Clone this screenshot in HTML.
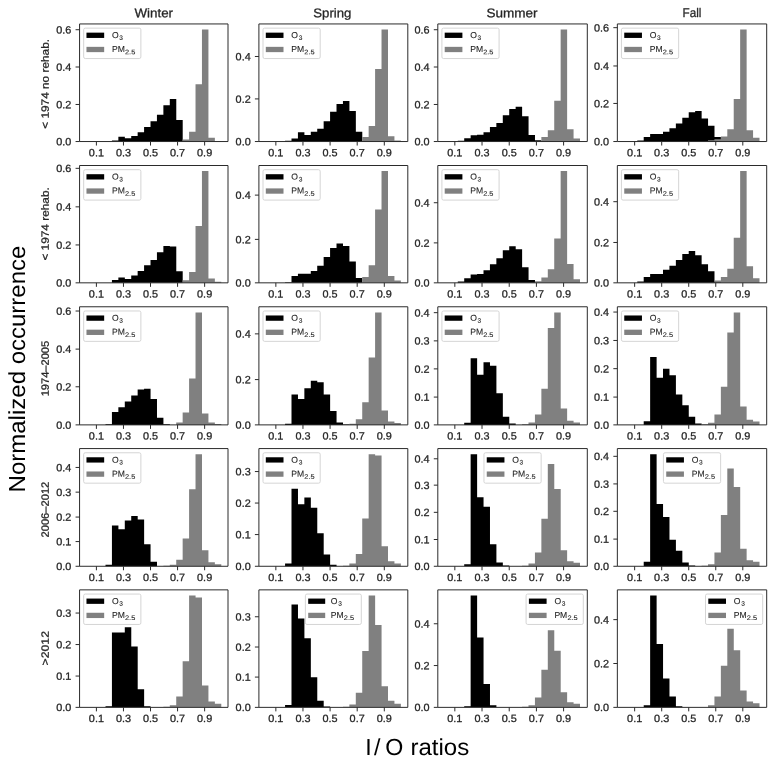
<!DOCTYPE html>
<html><head><meta charset="utf-8"><title>I/O ratios</title>
<style>html,body{margin:0;padding:0;background:#fff}svg{display:block;text-rendering:geometricPrecision;will-change:transform}</style>
</head><body>
<svg width="777" height="765" viewBox="0 0 777 765" font-family="Liberation Sans, sans-serif">
<rect width="777" height="765" fill="#fff"/>
<g stroke="#262626" stroke-width="0.28" stroke-linejoin="round">
<g>
<path d="M111.93 141.54h6.48v-1.03h-6.48zM118.36 141.54h6.48v-4.74h-6.48zM124.79 141.54h6.48v-3.3h-6.48zM131.22 141.54h6.48v-5.57h-6.48zM137.65 141.54h6.48v-9.28h-6.48zM144.08 141.54h6.48v-14.44h-6.48zM150.51 141.54h6.48v-20.21h-6.48zM156.94 141.54h6.48v-26.81h-6.48zM163.38 141.54h6.48v-36.3h-6.48zM169.8 141.54h6.48v-42.49h-6.48zM176.23 141.54h6.48v-21.66h-6.48z" fill="#000" stroke="none"/>
<path d="M182.66 141.54h6.48v-2.06h-6.48zM189.09 141.54h6.48v-9.69h-6.48zM195.52 141.54h6.48v-57.34h-6.48zM201.95 141.54h6.48v-112h-6.48zM208.38 141.54h6.48v-3.71h-6.48zM214.81 141.54h6.48v-0.62h-6.48z" fill="#808080" stroke="none"/>
<rect x="79.57" y="23.94" width="148.43" height="117.6" fill="none" stroke="#2b2b2b" stroke-width="1"/>
<path d="M96.4 141.54v4M123.46 141.54v4M150.51 141.54v4M177.57 141.54v4M204.63 141.54v4M79.57 29.73h-4M79.57 67h-4M79.57 104.47h-4M79.57 141.54h-4" stroke="#2b2b2b" stroke-width="1" fill="none"/>
<text x="88.85" y="156.24" transform="rotate(0.03 88.85 156.24)" font-size="10.5" fill="#262626" textLength="15.1" lengthAdjust="spacingAndGlyphs">0.1</text>
<text x="115.91" y="156.24" transform="rotate(0.03 115.91 156.24)" font-size="10.5" fill="#262626" textLength="15.1" lengthAdjust="spacingAndGlyphs">0.3</text>
<text x="142.96" y="156.24" transform="rotate(0.03 142.96 156.24)" font-size="10.5" fill="#262626" textLength="15.1" lengthAdjust="spacingAndGlyphs">0.5</text>
<text x="170.02" y="156.24" transform="rotate(0.03 170.02 156.24)" font-size="10.5" fill="#262626" textLength="15.1" lengthAdjust="spacingAndGlyphs">0.7</text>
<text x="197.08" y="156.24" transform="rotate(0.03 197.08 156.24)" font-size="10.5" fill="#262626" textLength="15.1" lengthAdjust="spacingAndGlyphs">0.9</text>
<text x="56.27" y="33.48" transform="rotate(0.03 56.27 33.48)" font-size="10.5" fill="#262626" textLength="15.1" lengthAdjust="spacingAndGlyphs">0.6</text>
<text x="56.27" y="70.75" transform="rotate(0.03 56.27 70.75)" font-size="10.5" fill="#262626" textLength="15.1" lengthAdjust="spacingAndGlyphs">0.4</text>
<text x="56.27" y="108.22" transform="rotate(0.03 56.27 108.22)" font-size="10.5" fill="#262626" textLength="15.1" lengthAdjust="spacingAndGlyphs">0.2</text>
<text x="56.27" y="145.29" transform="rotate(0.03 56.27 145.29)" font-size="10.5" fill="#262626" textLength="15.1" lengthAdjust="spacingAndGlyphs">0.0</text>
<rect x="83.67" y="28.14" width="57.2" height="30.4" rx="1.6" fill="#fff" fill-opacity="0.8" stroke="#d0d0d0" stroke-width="0.9"/>
<rect x="86.47" y="32.64" width="17.7" height="5.3" fill="#000" stroke="none"/>
<rect x="86.47" y="46.84" width="17.7" height="5.3" fill="#808080" stroke="none"/>
<text x="111.97" y="38.04" transform="rotate(0.03 111.97 38.04)" font-size="8.6" fill="#262626" stroke-width="0.1">O<tspan font-size="6.6" dx="0.7" dy="1.9">3</tspan></text>
<text x="111.97" y="52.04" transform="rotate(0.03 111.97 52.04)" font-size="8.6" fill="#262626" stroke-width="0.1">PM<tspan font-size="6.6" dx="0.1" dy="2.1" textLength="10.3" lengthAdjust="spacingAndGlyphs">2.5</tspan></text>
</g>
<g>
<path d="M285.07 141.54h6.48v-0.83h-6.48zM291.5 141.54h6.48v-3.09h-6.48zM297.93 141.54h6.48v-9.28h-6.48zM304.36 141.54h6.48v-6.6h-6.48zM310.79 141.54h6.48v-9.9h-6.48zM317.22 141.54h6.48v-12.79h-6.48zM323.65 141.54h6.48v-20.21h-6.48zM330.08 141.54h6.48v-29.7h-6.48zM336.51 141.54h6.48v-37.54h-6.48zM342.94 141.54h6.48v-40.63h-6.48zM349.37 141.54h6.48v-30.53h-6.48zM355.8 141.54h6.48v-9.69h-6.48z" fill="#000" stroke="none"/>
<path d="M362.23 141.54h6.48v-4.54h-6.48zM368.66 141.54h6.48v-15.47h-6.48zM375.09 141.54h6.48v-72.6h-6.48zM381.52 141.54h6.48v-112h-6.48zM387.95 141.54h6.48v-5.36h-6.48zM394.38 141.54h6.48v-1.03h-6.48z" fill="#808080" stroke="none"/>
<rect x="258.9" y="23.94" width="148.9" height="117.6" fill="none" stroke="#2b2b2b" stroke-width="1"/>
<path d="M275.85 141.54v4M302.96 141.54v4M330.08 141.54v4M357.19 141.54v4M384.3 141.54v4M258.9 56.49h-4M258.9 98.91h-4M258.9 141.54h-4" stroke="#2b2b2b" stroke-width="1" fill="none"/>
<text x="268.3" y="156.24" transform="rotate(0.03 268.3 156.24)" font-size="10.5" fill="#262626" textLength="15.1" lengthAdjust="spacingAndGlyphs">0.1</text>
<text x="295.41" y="156.24" transform="rotate(0.03 295.41 156.24)" font-size="10.5" fill="#262626" textLength="15.1" lengthAdjust="spacingAndGlyphs">0.3</text>
<text x="322.53" y="156.24" transform="rotate(0.03 322.53 156.24)" font-size="10.5" fill="#262626" textLength="15.1" lengthAdjust="spacingAndGlyphs">0.5</text>
<text x="349.64" y="156.24" transform="rotate(0.03 349.64 156.24)" font-size="10.5" fill="#262626" textLength="15.1" lengthAdjust="spacingAndGlyphs">0.7</text>
<text x="376.75" y="156.24" transform="rotate(0.03 376.75 156.24)" font-size="10.5" fill="#262626" textLength="15.1" lengthAdjust="spacingAndGlyphs">0.9</text>
<text x="235.6" y="60.24" transform="rotate(0.03 235.6 60.24)" font-size="10.5" fill="#262626" textLength="15.1" lengthAdjust="spacingAndGlyphs">0.4</text>
<text x="235.6" y="102.66" transform="rotate(0.03 235.6 102.66)" font-size="10.5" fill="#262626" textLength="15.1" lengthAdjust="spacingAndGlyphs">0.2</text>
<text x="235.6" y="145.29" transform="rotate(0.03 235.6 145.29)" font-size="10.5" fill="#262626" textLength="15.1" lengthAdjust="spacingAndGlyphs">0.0</text>
<rect x="263" y="28.14" width="57.2" height="30.4" rx="1.6" fill="#fff" fill-opacity="0.8" stroke="#d0d0d0" stroke-width="0.9"/>
<rect x="265.8" y="32.64" width="17.7" height="5.3" fill="#000" stroke="none"/>
<rect x="265.8" y="46.84" width="17.7" height="5.3" fill="#808080" stroke="none"/>
<text x="291.3" y="38.04" transform="rotate(0.03 291.3 38.04)" font-size="8.6" fill="#262626" stroke-width="0.1">O<tspan font-size="6.6" dx="0.7" dy="1.9">3</tspan></text>
<text x="291.3" y="52.04" transform="rotate(0.03 291.3 52.04)" font-size="8.6" fill="#262626" stroke-width="0.1">PM<tspan font-size="6.6" dx="0.1" dy="2.1" textLength="10.3" lengthAdjust="spacingAndGlyphs">2.5</tspan></text>
</g>
<g>
<path d="M457.78 141.54h6.48v-0.83h-6.48zM464.21 141.54h6.48v-3.3h-6.48zM470.64 141.54h6.48v-6.19h-6.48zM477.07 141.54h6.48v-6.81h-6.48zM483.5 141.54h6.48v-9.28h-6.48zM489.93 141.54h6.48v-14.44h-6.48zM496.36 141.54h6.48v-18.56h-6.48zM502.79 141.54h6.48v-26.2h-6.48zM509.22 141.54h6.48v-32.59h-6.48zM515.64 141.54h6.48v-34.86h-6.48zM522.08 141.54h6.48v-25.37h-6.48zM528.5 141.54h6.48v-6.6h-6.48zM534.94 141.54h6.48v-1.24h-6.48z" fill="#000" stroke="none"/>
<path d="M541.37 141.54h6.48v-4.54h-6.48zM547.8 141.54h6.48v-11.34h-6.48zM554.23 141.54h6.48v-40.84h-6.48zM560.65 141.54h6.48v-112h-6.48zM567.09 141.54h6.48v-12.17h-6.48zM573.51 141.54h6.48v-3.09h-6.48z" fill="#808080" stroke="none"/>
<rect x="437.8" y="23.94" width="149.5" height="117.6" fill="none" stroke="#2b2b2b" stroke-width="1"/>
<path d="M454.83 141.54v4M482.02 141.54v4M509.22 141.54v4M536.41 141.54v4M563.6 141.54v4M437.8 29.73h-4M437.8 67h-4M437.8 104.47h-4M437.8 141.54h-4" stroke="#2b2b2b" stroke-width="1" fill="none"/>
<text x="447.28" y="156.24" transform="rotate(0.03 447.28 156.24)" font-size="10.5" fill="#262626" textLength="15.1" lengthAdjust="spacingAndGlyphs">0.1</text>
<text x="474.47" y="156.24" transform="rotate(0.03 474.47 156.24)" font-size="10.5" fill="#262626" textLength="15.1" lengthAdjust="spacingAndGlyphs">0.3</text>
<text x="501.67" y="156.24" transform="rotate(0.03 501.67 156.24)" font-size="10.5" fill="#262626" textLength="15.1" lengthAdjust="spacingAndGlyphs">0.5</text>
<text x="528.86" y="156.24" transform="rotate(0.03 528.86 156.24)" font-size="10.5" fill="#262626" textLength="15.1" lengthAdjust="spacingAndGlyphs">0.7</text>
<text x="556.05" y="156.24" transform="rotate(0.03 556.05 156.24)" font-size="10.5" fill="#262626" textLength="15.1" lengthAdjust="spacingAndGlyphs">0.9</text>
<text x="414.5" y="33.48" transform="rotate(0.03 414.5 33.48)" font-size="10.5" fill="#262626" textLength="15.1" lengthAdjust="spacingAndGlyphs">0.6</text>
<text x="414.5" y="70.75" transform="rotate(0.03 414.5 70.75)" font-size="10.5" fill="#262626" textLength="15.1" lengthAdjust="spacingAndGlyphs">0.4</text>
<text x="414.5" y="108.22" transform="rotate(0.03 414.5 108.22)" font-size="10.5" fill="#262626" textLength="15.1" lengthAdjust="spacingAndGlyphs">0.2</text>
<text x="414.5" y="145.29" transform="rotate(0.03 414.5 145.29)" font-size="10.5" fill="#262626" textLength="15.1" lengthAdjust="spacingAndGlyphs">0.0</text>
<rect x="441.9" y="28.14" width="57.2" height="30.4" rx="1.6" fill="#fff" fill-opacity="0.8" stroke="#d0d0d0" stroke-width="0.9"/>
<rect x="444.7" y="32.64" width="17.7" height="5.3" fill="#000" stroke="none"/>
<rect x="444.7" y="46.84" width="17.7" height="5.3" fill="#808080" stroke="none"/>
<text x="470.2" y="38.04" transform="rotate(0.03 470.2 38.04)" font-size="8.6" fill="#262626" stroke-width="0.1">O<tspan font-size="6.6" dx="0.7" dy="1.9">3</tspan></text>
<text x="470.2" y="52.04" transform="rotate(0.03 470.2 52.04)" font-size="8.6" fill="#262626" stroke-width="0.1">PM<tspan font-size="6.6" dx="0.1" dy="2.1" textLength="10.3" lengthAdjust="spacingAndGlyphs">2.5</tspan></text>
</g>
<g>
<path d="M637.28 141.54h6.48v-1.03h-6.48zM643.71 141.54h6.48v-4.54h-6.48zM650.14 141.54h6.48v-7.43h-6.48zM656.57 141.54h6.48v-7.43h-6.48zM663 141.54h6.48v-9.9h-6.48zM669.43 141.54h6.48v-13.41h-6.48zM675.86 141.54h6.48v-17.94h-6.48zM682.29 141.54h6.48v-23.72h-6.48zM688.72 141.54h6.48v-29.29h-6.48zM695.15 141.54h6.48v-30.53h-6.48zM701.58 141.54h6.48v-23.1h-6.48zM708.01 141.54h6.48v-15.88h-6.48zM714.44 141.54h6.48v-4.54h-6.48z" fill="#000" stroke="none"/>
<path d="M708.01 141.54h6.48v-1.24h-6.48zM714.44 141.54h6.48v-2.27h-6.48zM720.87 141.54h6.48v-5.16h-6.48zM727.3 141.54h6.48v-12.17h-6.48zM733.73 141.54h6.48v-42.49h-6.48zM740.16 141.54h6.48v-112h-6.48zM746.59 141.54h6.48v-11.34h-6.48zM753.02 141.54h6.48v-3.71h-6.48z" fill="#808080" stroke="none"/>
<rect x="617.35" y="23.94" width="149.35" height="117.6" fill="none" stroke="#2b2b2b" stroke-width="1"/>
<path d="M634.65 141.54v4M661.69 141.54v4M688.72 141.54v4M715.76 141.54v4M742.8 141.54v4M617.35 27.67h-4M617.35 65.97h-4M617.35 103.44h-4M617.35 141.54h-4" stroke="#2b2b2b" stroke-width="1" fill="none"/>
<text x="627.1" y="156.24" transform="rotate(0.03 627.1 156.24)" font-size="10.5" fill="#262626" textLength="15.1" lengthAdjust="spacingAndGlyphs">0.1</text>
<text x="654.14" y="156.24" transform="rotate(0.03 654.14 156.24)" font-size="10.5" fill="#262626" textLength="15.1" lengthAdjust="spacingAndGlyphs">0.3</text>
<text x="681.17" y="156.24" transform="rotate(0.03 681.17 156.24)" font-size="10.5" fill="#262626" textLength="15.1" lengthAdjust="spacingAndGlyphs">0.5</text>
<text x="708.21" y="156.24" transform="rotate(0.03 708.21 156.24)" font-size="10.5" fill="#262626" textLength="15.1" lengthAdjust="spacingAndGlyphs">0.7</text>
<text x="735.25" y="156.24" transform="rotate(0.03 735.25 156.24)" font-size="10.5" fill="#262626" textLength="15.1" lengthAdjust="spacingAndGlyphs">0.9</text>
<text x="594.05" y="31.42" transform="rotate(0.03 594.05 31.42)" font-size="10.5" fill="#262626" textLength="15.1" lengthAdjust="spacingAndGlyphs">0.6</text>
<text x="594.05" y="69.72" transform="rotate(0.03 594.05 69.72)" font-size="10.5" fill="#262626" textLength="15.1" lengthAdjust="spacingAndGlyphs">0.4</text>
<text x="594.05" y="107.19" transform="rotate(0.03 594.05 107.19)" font-size="10.5" fill="#262626" textLength="15.1" lengthAdjust="spacingAndGlyphs">0.2</text>
<text x="594.05" y="145.29" transform="rotate(0.03 594.05 145.29)" font-size="10.5" fill="#262626" textLength="15.1" lengthAdjust="spacingAndGlyphs">0.0</text>
<rect x="621.45" y="28.14" width="57.2" height="30.4" rx="1.6" fill="#fff" fill-opacity="0.8" stroke="#d0d0d0" stroke-width="0.9"/>
<rect x="624.25" y="32.64" width="17.7" height="5.3" fill="#000" stroke="none"/>
<rect x="624.25" y="46.84" width="17.7" height="5.3" fill="#808080" stroke="none"/>
<text x="649.75" y="38.04" transform="rotate(0.03 649.75 38.04)" font-size="8.6" fill="#262626" stroke-width="0.1">O<tspan font-size="6.6" dx="0.7" dy="1.9">3</tspan></text>
<text x="649.75" y="52.04" transform="rotate(0.03 649.75 52.04)" font-size="8.6" fill="#262626" stroke-width="0.1">PM<tspan font-size="6.6" dx="0.1" dy="2.1" textLength="10.3" lengthAdjust="spacingAndGlyphs">2.5</tspan></text>
</g>
<g>
<path d="M111.93 282.83h6.48v-2.88h-6.48zM118.36 282.83h6.48v-5.35h-6.48zM124.79 282.83h6.48v-3.91h-6.48zM131.22 282.83h6.48v-7.41h-6.48zM137.65 282.83h6.48v-11.94h-6.48zM144.08 282.83h6.48v-17.7h-6.48zM150.51 282.83h6.48v-22.84h-6.48zM156.94 282.83h6.48v-30.66h-6.48zM163.38 282.83h6.48v-36.84h-6.48zM169.8 282.83h6.48v-36.22h-6.48zM176.23 282.83h6.48v-11.52h-6.48z" fill="#000" stroke="none"/>
<path d="M182.66 282.83h6.48v-2.68h-6.48zM189.09 282.83h6.48v-10.91h-6.48zM195.52 282.83h6.48v-56.8h-6.48zM201.95 282.83h6.48v-111.74h-6.48zM208.38 282.83h6.48v-4.32h-6.48zM214.81 282.83h6.48v-1.03h-6.48z" fill="#808080" stroke="none"/>
<rect x="79.57" y="165.5" width="148.43" height="117.33" fill="none" stroke="#2b2b2b" stroke-width="1"/>
<path d="M96.4 282.83v4M123.46 282.83v4M150.51 282.83v4M177.57 282.83v4M204.63 282.83v4M79.57 168.34h-4M79.57 206.85h-4M79.57 244.94h-4M79.57 282.83h-4" stroke="#2b2b2b" stroke-width="1" fill="none"/>
<text x="88.85" y="297.53" transform="rotate(0.03 88.85 297.53)" font-size="10.5" fill="#262626" textLength="15.1" lengthAdjust="spacingAndGlyphs">0.1</text>
<text x="115.91" y="297.53" transform="rotate(0.03 115.91 297.53)" font-size="10.5" fill="#262626" textLength="15.1" lengthAdjust="spacingAndGlyphs">0.3</text>
<text x="142.96" y="297.53" transform="rotate(0.03 142.96 297.53)" font-size="10.5" fill="#262626" textLength="15.1" lengthAdjust="spacingAndGlyphs">0.5</text>
<text x="170.02" y="297.53" transform="rotate(0.03 170.02 297.53)" font-size="10.5" fill="#262626" textLength="15.1" lengthAdjust="spacingAndGlyphs">0.7</text>
<text x="197.08" y="297.53" transform="rotate(0.03 197.08 297.53)" font-size="10.5" fill="#262626" textLength="15.1" lengthAdjust="spacingAndGlyphs">0.9</text>
<text x="56.27" y="172.09" transform="rotate(0.03 56.27 172.09)" font-size="10.5" fill="#262626" textLength="15.1" lengthAdjust="spacingAndGlyphs">0.6</text>
<text x="56.27" y="210.6" transform="rotate(0.03 56.27 210.6)" font-size="10.5" fill="#262626" textLength="15.1" lengthAdjust="spacingAndGlyphs">0.4</text>
<text x="56.27" y="248.69" transform="rotate(0.03 56.27 248.69)" font-size="10.5" fill="#262626" textLength="15.1" lengthAdjust="spacingAndGlyphs">0.2</text>
<text x="56.27" y="286.58" transform="rotate(0.03 56.27 286.58)" font-size="10.5" fill="#262626" textLength="15.1" lengthAdjust="spacingAndGlyphs">0.0</text>
<rect x="83.67" y="169.7" width="57.2" height="30.4" rx="1.6" fill="#fff" fill-opacity="0.8" stroke="#d0d0d0" stroke-width="0.9"/>
<rect x="86.47" y="174.2" width="17.7" height="5.3" fill="#000" stroke="none"/>
<rect x="86.47" y="188.4" width="17.7" height="5.3" fill="#808080" stroke="none"/>
<text x="111.97" y="179.6" transform="rotate(0.03 111.97 179.6)" font-size="8.6" fill="#262626" stroke-width="0.1">O<tspan font-size="6.6" dx="0.7" dy="1.9">3</tspan></text>
<text x="111.97" y="193.6" transform="rotate(0.03 111.97 193.6)" font-size="8.6" fill="#262626" stroke-width="0.1">PM<tspan font-size="6.6" dx="0.1" dy="2.1" textLength="10.3" lengthAdjust="spacingAndGlyphs">2.5</tspan></text>
</g>
<g>
<path d="M285.07 282.83h6.48v-0.62h-6.48zM291.5 282.83h6.48v-6.79h-6.48zM297.93 282.83h6.48v-9.05h-6.48zM304.36 282.83h6.48v-9.05h-6.48zM310.79 282.83h6.48v-11.94h-6.48zM317.22 282.83h6.48v-17.08h-6.48zM323.65 282.83h6.48v-25.93h-6.48zM330.08 282.83h6.48v-34.78h-6.48zM336.51 282.83h6.48v-39.31h-6.48zM342.94 282.83h6.48v-36.84h-6.48zM349.37 282.83h6.48v-21.4h-6.48zM355.8 282.83h6.48v-4.94h-6.48z" fill="#000" stroke="none"/>
<path d="M362.23 282.83h6.48v-5.76h-6.48zM368.66 282.83h6.48v-17.7h-6.48zM375.09 282.83h6.48v-73.26h-6.48zM381.52 282.83h6.48v-111.74h-6.48zM387.95 282.83h6.48v-6.79h-6.48zM394.38 282.83h6.48v-2.26h-6.48z" fill="#808080" stroke="none"/>
<rect x="258.9" y="165.5" width="148.9" height="117.33" fill="none" stroke="#2b2b2b" stroke-width="1"/>
<path d="M275.85 282.83v4M302.96 282.83v4M330.08 282.83v4M357.19 282.83v4M384.3 282.83v4M258.9 195.11h-4M258.9 239.38h-4M258.9 282.83h-4" stroke="#2b2b2b" stroke-width="1" fill="none"/>
<text x="268.3" y="297.53" transform="rotate(0.03 268.3 297.53)" font-size="10.5" fill="#262626" textLength="15.1" lengthAdjust="spacingAndGlyphs">0.1</text>
<text x="295.41" y="297.53" transform="rotate(0.03 295.41 297.53)" font-size="10.5" fill="#262626" textLength="15.1" lengthAdjust="spacingAndGlyphs">0.3</text>
<text x="322.53" y="297.53" transform="rotate(0.03 322.53 297.53)" font-size="10.5" fill="#262626" textLength="15.1" lengthAdjust="spacingAndGlyphs">0.5</text>
<text x="349.64" y="297.53" transform="rotate(0.03 349.64 297.53)" font-size="10.5" fill="#262626" textLength="15.1" lengthAdjust="spacingAndGlyphs">0.7</text>
<text x="376.75" y="297.53" transform="rotate(0.03 376.75 297.53)" font-size="10.5" fill="#262626" textLength="15.1" lengthAdjust="spacingAndGlyphs">0.9</text>
<text x="235.6" y="198.86" transform="rotate(0.03 235.6 198.86)" font-size="10.5" fill="#262626" textLength="15.1" lengthAdjust="spacingAndGlyphs">0.4</text>
<text x="235.6" y="243.13" transform="rotate(0.03 235.6 243.13)" font-size="10.5" fill="#262626" textLength="15.1" lengthAdjust="spacingAndGlyphs">0.2</text>
<text x="235.6" y="286.58" transform="rotate(0.03 235.6 286.58)" font-size="10.5" fill="#262626" textLength="15.1" lengthAdjust="spacingAndGlyphs">0.0</text>
<rect x="263" y="169.7" width="57.2" height="30.4" rx="1.6" fill="#fff" fill-opacity="0.8" stroke="#d0d0d0" stroke-width="0.9"/>
<rect x="265.8" y="174.2" width="17.7" height="5.3" fill="#000" stroke="none"/>
<rect x="265.8" y="188.4" width="17.7" height="5.3" fill="#808080" stroke="none"/>
<text x="291.3" y="179.6" transform="rotate(0.03 291.3 179.6)" font-size="8.6" fill="#262626" stroke-width="0.1">O<tspan font-size="6.6" dx="0.7" dy="1.9">3</tspan></text>
<text x="291.3" y="193.6" transform="rotate(0.03 291.3 193.6)" font-size="8.6" fill="#262626" stroke-width="0.1">PM<tspan font-size="6.6" dx="0.1" dy="2.1" textLength="10.3" lengthAdjust="spacingAndGlyphs">2.5</tspan></text>
</g>
<g>
<path d="M457.78 282.83h6.48v-1.23h-6.48zM464.21 282.83h6.48v-4.53h-6.48zM470.64 282.83h6.48v-8.23h-6.48zM477.07 282.83h6.48v-8.85h-6.48zM483.5 282.83h6.48v-12.55h-6.48zM489.93 282.83h6.48v-18.52h-6.48zM496.36 282.83h6.48v-24.49h-6.48zM502.79 282.83h6.48v-32.51h-6.48zM509.22 282.83h6.48v-36.63h-6.48zM515.64 282.83h6.48v-33.54h-6.48zM522.08 282.83h6.48v-15.64h-6.48zM528.5 282.83h6.48v-2.88h-6.48z" fill="#000" stroke="none"/>
<path d="M534.94 282.83h6.48v-1.65h-6.48zM541.37 282.83h6.48v-5.35h-6.48zM547.8 282.83h6.48v-13.58h-6.48zM554.23 282.83h6.48v-44.45h-6.48zM560.65 282.83h6.48v-111.74h-6.48zM567.09 282.83h6.48v-18.73h-6.48zM573.51 282.83h6.48v-3.7h-6.48z" fill="#808080" stroke="none"/>
<rect x="437.8" y="165.5" width="149.5" height="117.33" fill="none" stroke="#2b2b2b" stroke-width="1"/>
<path d="M454.83 282.83v4M482.02 282.83v4M509.22 282.83v4M536.41 282.83v4M563.6 282.83v4M437.8 202.73h-4M437.8 242.88h-4M437.8 282.83h-4" stroke="#2b2b2b" stroke-width="1" fill="none"/>
<text x="447.28" y="297.53" transform="rotate(0.03 447.28 297.53)" font-size="10.5" fill="#262626" textLength="15.1" lengthAdjust="spacingAndGlyphs">0.1</text>
<text x="474.47" y="297.53" transform="rotate(0.03 474.47 297.53)" font-size="10.5" fill="#262626" textLength="15.1" lengthAdjust="spacingAndGlyphs">0.3</text>
<text x="501.67" y="297.53" transform="rotate(0.03 501.67 297.53)" font-size="10.5" fill="#262626" textLength="15.1" lengthAdjust="spacingAndGlyphs">0.5</text>
<text x="528.86" y="297.53" transform="rotate(0.03 528.86 297.53)" font-size="10.5" fill="#262626" textLength="15.1" lengthAdjust="spacingAndGlyphs">0.7</text>
<text x="556.05" y="297.53" transform="rotate(0.03 556.05 297.53)" font-size="10.5" fill="#262626" textLength="15.1" lengthAdjust="spacingAndGlyphs">0.9</text>
<text x="414.5" y="206.48" transform="rotate(0.03 414.5 206.48)" font-size="10.5" fill="#262626" textLength="15.1" lengthAdjust="spacingAndGlyphs">0.4</text>
<text x="414.5" y="246.63" transform="rotate(0.03 414.5 246.63)" font-size="10.5" fill="#262626" textLength="15.1" lengthAdjust="spacingAndGlyphs">0.2</text>
<text x="414.5" y="286.58" transform="rotate(0.03 414.5 286.58)" font-size="10.5" fill="#262626" textLength="15.1" lengthAdjust="spacingAndGlyphs">0.0</text>
<rect x="441.9" y="169.7" width="57.2" height="30.4" rx="1.6" fill="#fff" fill-opacity="0.8" stroke="#d0d0d0" stroke-width="0.9"/>
<rect x="444.7" y="174.2" width="17.7" height="5.3" fill="#000" stroke="none"/>
<rect x="444.7" y="188.4" width="17.7" height="5.3" fill="#808080" stroke="none"/>
<text x="470.2" y="179.6" transform="rotate(0.03 470.2 179.6)" font-size="8.6" fill="#262626" stroke-width="0.1">O<tspan font-size="6.6" dx="0.7" dy="1.9">3</tspan></text>
<text x="470.2" y="193.6" transform="rotate(0.03 470.2 193.6)" font-size="8.6" fill="#262626" stroke-width="0.1">PM<tspan font-size="6.6" dx="0.1" dy="2.1" textLength="10.3" lengthAdjust="spacingAndGlyphs">2.5</tspan></text>
</g>
<g>
<path d="M637.28 282.83h6.48v-1.23h-6.48zM643.71 282.83h6.48v-5.76h-6.48zM650.14 282.83h6.48v-8.85h-6.48zM656.57 282.83h6.48v-8.85h-6.48zM663 282.83h6.48v-13.17h-6.48zM669.43 282.83h6.48v-17.08h-6.48zM675.86 282.83h6.48v-22.84h-6.48zM682.29 282.83h6.48v-28.81h-6.48zM688.72 282.83h6.48v-31.9h-6.48zM695.15 282.83h6.48v-27.58h-6.48zM701.58 282.83h6.48v-18.52h-6.48zM708.01 282.83h6.48v-11.52h-6.48zM714.44 282.83h6.48v-1.23h-6.48z" fill="#000" stroke="none"/>
<path d="M714.44 282.83h6.48v-2.26h-6.48zM720.87 282.83h6.48v-5.76h-6.48zM727.3 282.83h6.48v-13.99h-6.48zM733.73 282.83h6.48v-45.07h-6.48zM740.16 282.83h6.48v-111.74h-6.48zM746.59 282.83h6.48v-16.46h-6.48zM753.02 282.83h6.48v-4.53h-6.48z" fill="#808080" stroke="none"/>
<rect x="617.35" y="165.5" width="149.35" height="117.33" fill="none" stroke="#2b2b2b" stroke-width="1"/>
<path d="M634.65 282.83v4M661.69 282.83v4M688.72 282.83v4M715.76 282.83v4M742.8 282.83v4M617.35 201.7h-4M617.35 242.47h-4M617.35 282.83h-4" stroke="#2b2b2b" stroke-width="1" fill="none"/>
<text x="627.1" y="297.53" transform="rotate(0.03 627.1 297.53)" font-size="10.5" fill="#262626" textLength="15.1" lengthAdjust="spacingAndGlyphs">0.1</text>
<text x="654.14" y="297.53" transform="rotate(0.03 654.14 297.53)" font-size="10.5" fill="#262626" textLength="15.1" lengthAdjust="spacingAndGlyphs">0.3</text>
<text x="681.17" y="297.53" transform="rotate(0.03 681.17 297.53)" font-size="10.5" fill="#262626" textLength="15.1" lengthAdjust="spacingAndGlyphs">0.5</text>
<text x="708.21" y="297.53" transform="rotate(0.03 708.21 297.53)" font-size="10.5" fill="#262626" textLength="15.1" lengthAdjust="spacingAndGlyphs">0.7</text>
<text x="735.25" y="297.53" transform="rotate(0.03 735.25 297.53)" font-size="10.5" fill="#262626" textLength="15.1" lengthAdjust="spacingAndGlyphs">0.9</text>
<text x="594.05" y="205.45" transform="rotate(0.03 594.05 205.45)" font-size="10.5" fill="#262626" textLength="15.1" lengthAdjust="spacingAndGlyphs">0.4</text>
<text x="594.05" y="246.22" transform="rotate(0.03 594.05 246.22)" font-size="10.5" fill="#262626" textLength="15.1" lengthAdjust="spacingAndGlyphs">0.2</text>
<text x="594.05" y="286.58" transform="rotate(0.03 594.05 286.58)" font-size="10.5" fill="#262626" textLength="15.1" lengthAdjust="spacingAndGlyphs">0.0</text>
<rect x="621.45" y="169.7" width="57.2" height="30.4" rx="1.6" fill="#fff" fill-opacity="0.8" stroke="#d0d0d0" stroke-width="0.9"/>
<rect x="624.25" y="174.2" width="17.7" height="5.3" fill="#000" stroke="none"/>
<rect x="624.25" y="188.4" width="17.7" height="5.3" fill="#808080" stroke="none"/>
<text x="649.75" y="179.6" transform="rotate(0.03 649.75 179.6)" font-size="8.6" fill="#262626" stroke-width="0.1">O<tspan font-size="6.6" dx="0.7" dy="1.9">3</tspan></text>
<text x="649.75" y="193.6" transform="rotate(0.03 649.75 193.6)" font-size="8.6" fill="#262626" stroke-width="0.1">PM<tspan font-size="6.6" dx="0.1" dy="2.1" textLength="10.3" lengthAdjust="spacingAndGlyphs">2.5</tspan></text>
</g>
<g>
<path d="M105.5 424.89h6.48v-0.62h-6.48zM111.93 424.89h6.48v-13h-6.48zM118.36 424.89h6.48v-17.55h-6.48zM124.79 424.89h6.48v-23.32h-6.48zM131.22 424.89h6.48v-29.31h-6.48zM137.65 424.89h6.48v-35.3h-6.48zM144.08 424.89h6.48v-36.12h-6.48zM150.51 424.89h6.48v-25.8h-6.48zM156.94 424.89h6.48v-7.22h-6.48zM163.38 424.89h6.48v-0.62h-6.48z" fill="#000" stroke="none"/>
<path d="M176.23 424.89h6.48v-2.48h-6.48zM182.66 424.89h6.48v-12.38h-6.48zM189.09 424.89h6.48v-46.44h-6.48zM195.52 424.89h6.48v-112.5h-6.48zM201.95 424.89h6.48v-11.35h-6.48zM208.38 424.89h6.48v-2.48h-6.48zM214.81 424.89h6.48v-0.83h-6.48z" fill="#808080" stroke="none"/>
<rect x="79.57" y="306.77" width="148.43" height="118.12" fill="none" stroke="#2b2b2b" stroke-width="1"/>
<path d="M96.4 424.89v4M123.46 424.89v4M150.51 424.89v4M177.57 424.89v4M204.63 424.89v4M79.57 311.02h-4M79.57 349.11h-4M79.57 386.79h-4M79.57 424.89h-4" stroke="#2b2b2b" stroke-width="1" fill="none"/>
<text x="88.85" y="439.59" transform="rotate(0.03 88.85 439.59)" font-size="10.5" fill="#262626" textLength="15.1" lengthAdjust="spacingAndGlyphs">0.1</text>
<text x="115.91" y="439.59" transform="rotate(0.03 115.91 439.59)" font-size="10.5" fill="#262626" textLength="15.1" lengthAdjust="spacingAndGlyphs">0.3</text>
<text x="142.96" y="439.59" transform="rotate(0.03 142.96 439.59)" font-size="10.5" fill="#262626" textLength="15.1" lengthAdjust="spacingAndGlyphs">0.5</text>
<text x="170.02" y="439.59" transform="rotate(0.03 170.02 439.59)" font-size="10.5" fill="#262626" textLength="15.1" lengthAdjust="spacingAndGlyphs">0.7</text>
<text x="197.08" y="439.59" transform="rotate(0.03 197.08 439.59)" font-size="10.5" fill="#262626" textLength="15.1" lengthAdjust="spacingAndGlyphs">0.9</text>
<text x="56.27" y="314.77" transform="rotate(0.03 56.27 314.77)" font-size="10.5" fill="#262626" textLength="15.1" lengthAdjust="spacingAndGlyphs">0.6</text>
<text x="56.27" y="352.86" transform="rotate(0.03 56.27 352.86)" font-size="10.5" fill="#262626" textLength="15.1" lengthAdjust="spacingAndGlyphs">0.4</text>
<text x="56.27" y="390.54" transform="rotate(0.03 56.27 390.54)" font-size="10.5" fill="#262626" textLength="15.1" lengthAdjust="spacingAndGlyphs">0.2</text>
<text x="56.27" y="428.64" transform="rotate(0.03 56.27 428.64)" font-size="10.5" fill="#262626" textLength="15.1" lengthAdjust="spacingAndGlyphs">0.0</text>
<rect x="83.67" y="310.97" width="57.2" height="30.4" rx="1.6" fill="#fff" fill-opacity="0.8" stroke="#d0d0d0" stroke-width="0.9"/>
<rect x="86.47" y="315.47" width="17.7" height="5.3" fill="#000" stroke="none"/>
<rect x="86.47" y="329.67" width="17.7" height="5.3" fill="#808080" stroke="none"/>
<text x="111.97" y="320.87" transform="rotate(0.03 111.97 320.87)" font-size="8.6" fill="#262626" stroke-width="0.1">O<tspan font-size="6.6" dx="0.7" dy="1.9">3</tspan></text>
<text x="111.97" y="334.87" transform="rotate(0.03 111.97 334.87)" font-size="8.6" fill="#262626" stroke-width="0.1">PM<tspan font-size="6.6" dx="0.1" dy="2.1" textLength="10.3" lengthAdjust="spacingAndGlyphs">2.5</tspan></text>
</g>
<g>
<path d="M285.07 424.89h6.48v-1.03h-6.48zM291.5 424.89h6.48v-30.34h-6.48zM297.93 424.89h6.48v-25.8h-6.48zM304.36 424.89h6.48v-36.74h-6.48zM310.79 424.89h6.48v-44.17h-6.48zM317.22 424.89h6.48v-42.73h-6.48zM323.65 424.89h6.48v-30.34h-6.48zM330.08 424.89h6.48v-13.83h-6.48zM336.51 424.89h6.48v-2.48h-6.48zM342.94 424.89h6.48v-0.41h-6.48z" fill="#000" stroke="none"/>
<path d="M349.37 424.89h6.48v-1.03h-6.48zM355.8 424.89h6.48v-5.57h-6.48zM362.23 424.89h6.48v-22.71h-6.48zM368.66 424.89h6.48v-67.5h-6.48zM375.09 424.89h6.48v-112.5h-6.48zM381.52 424.89h6.48v-14.45h-6.48zM387.95 424.89h6.48v-3.51h-6.48zM394.38 424.89h6.48v-1.86h-6.48z" fill="#808080" stroke="none"/>
<rect x="258.9" y="306.77" width="148.9" height="118.12" fill="none" stroke="#2b2b2b" stroke-width="1"/>
<path d="M275.85 424.89v4M302.96 424.89v4M330.08 424.89v4M357.19 424.89v4M384.3 424.89v4M258.9 333.87h-4M258.9 379.59h-4M258.9 424.89h-4" stroke="#2b2b2b" stroke-width="1" fill="none"/>
<text x="268.3" y="439.59" transform="rotate(0.03 268.3 439.59)" font-size="10.5" fill="#262626" textLength="15.1" lengthAdjust="spacingAndGlyphs">0.1</text>
<text x="295.41" y="439.59" transform="rotate(0.03 295.41 439.59)" font-size="10.5" fill="#262626" textLength="15.1" lengthAdjust="spacingAndGlyphs">0.3</text>
<text x="322.53" y="439.59" transform="rotate(0.03 322.53 439.59)" font-size="10.5" fill="#262626" textLength="15.1" lengthAdjust="spacingAndGlyphs">0.5</text>
<text x="349.64" y="439.59" transform="rotate(0.03 349.64 439.59)" font-size="10.5" fill="#262626" textLength="15.1" lengthAdjust="spacingAndGlyphs">0.7</text>
<text x="376.75" y="439.59" transform="rotate(0.03 376.75 439.59)" font-size="10.5" fill="#262626" textLength="15.1" lengthAdjust="spacingAndGlyphs">0.9</text>
<text x="235.6" y="337.62" transform="rotate(0.03 235.6 337.62)" font-size="10.5" fill="#262626" textLength="15.1" lengthAdjust="spacingAndGlyphs">0.4</text>
<text x="235.6" y="383.34" transform="rotate(0.03 235.6 383.34)" font-size="10.5" fill="#262626" textLength="15.1" lengthAdjust="spacingAndGlyphs">0.2</text>
<text x="235.6" y="428.64" transform="rotate(0.03 235.6 428.64)" font-size="10.5" fill="#262626" textLength="15.1" lengthAdjust="spacingAndGlyphs">0.0</text>
<rect x="263" y="310.97" width="57.2" height="30.4" rx="1.6" fill="#fff" fill-opacity="0.8" stroke="#d0d0d0" stroke-width="0.9"/>
<rect x="265.8" y="315.47" width="17.7" height="5.3" fill="#000" stroke="none"/>
<rect x="265.8" y="329.67" width="17.7" height="5.3" fill="#808080" stroke="none"/>
<text x="291.3" y="320.87" transform="rotate(0.03 291.3 320.87)" font-size="8.6" fill="#262626" stroke-width="0.1">O<tspan font-size="6.6" dx="0.7" dy="1.9">3</tspan></text>
<text x="291.3" y="334.87" transform="rotate(0.03 291.3 334.87)" font-size="8.6" fill="#262626" stroke-width="0.1">PM<tspan font-size="6.6" dx="0.1" dy="2.1" textLength="10.3" lengthAdjust="spacingAndGlyphs">2.5</tspan></text>
</g>
<g>
<path d="M464.21 424.89h6.48v-2.06h-6.48zM470.64 424.89h6.48v-66.67h-6.48zM477.07 424.89h6.48v-50.16h-6.48zM483.5 424.89h6.48v-62.75h-6.48zM489.93 424.89h6.48v-59.24h-6.48zM496.36 424.89h6.48v-31.58h-6.48zM502.79 424.89h6.48v-8.26h-6.48zM509.22 424.89h6.48v-1.44h-6.48z" fill="#000" stroke="none"/>
<path d="M522.08 424.89h6.48v-0.62h-6.48zM528.5 424.89h6.48v-2.48h-6.48zM534.94 424.89h6.48v-10.32h-6.48zM541.37 424.89h6.48v-36.12h-6.48zM547.8 424.89h6.48v-97.01h-6.48zM554.23 424.89h6.48v-112.5h-6.48zM560.65 424.89h6.48v-16.51h-6.48zM567.09 424.89h6.48v-4.13h-6.48zM573.51 424.89h6.48v-2.48h-6.48z" fill="#808080" stroke="none"/>
<rect x="437.8" y="306.77" width="149.5" height="118.12" fill="none" stroke="#2b2b2b" stroke-width="1"/>
<path d="M454.83 424.89v4M482.02 424.89v4M509.22 424.89v4M536.41 424.89v4M563.6 424.89v4M437.8 312.66h-4M437.8 340.87h-4M437.8 368.88h-4M437.8 397.09h-4M437.8 424.89h-4" stroke="#2b2b2b" stroke-width="1" fill="none"/>
<text x="447.28" y="439.59" transform="rotate(0.03 447.28 439.59)" font-size="10.5" fill="#262626" textLength="15.1" lengthAdjust="spacingAndGlyphs">0.1</text>
<text x="474.47" y="439.59" transform="rotate(0.03 474.47 439.59)" font-size="10.5" fill="#262626" textLength="15.1" lengthAdjust="spacingAndGlyphs">0.3</text>
<text x="501.67" y="439.59" transform="rotate(0.03 501.67 439.59)" font-size="10.5" fill="#262626" textLength="15.1" lengthAdjust="spacingAndGlyphs">0.5</text>
<text x="528.86" y="439.59" transform="rotate(0.03 528.86 439.59)" font-size="10.5" fill="#262626" textLength="15.1" lengthAdjust="spacingAndGlyphs">0.7</text>
<text x="556.05" y="439.59" transform="rotate(0.03 556.05 439.59)" font-size="10.5" fill="#262626" textLength="15.1" lengthAdjust="spacingAndGlyphs">0.9</text>
<text x="414.5" y="316.41" transform="rotate(0.03 414.5 316.41)" font-size="10.5" fill="#262626" textLength="15.1" lengthAdjust="spacingAndGlyphs">0.4</text>
<text x="414.5" y="344.62" transform="rotate(0.03 414.5 344.62)" font-size="10.5" fill="#262626" textLength="15.1" lengthAdjust="spacingAndGlyphs">0.3</text>
<text x="414.5" y="372.63" transform="rotate(0.03 414.5 372.63)" font-size="10.5" fill="#262626" textLength="15.1" lengthAdjust="spacingAndGlyphs">0.2</text>
<text x="414.5" y="400.84" transform="rotate(0.03 414.5 400.84)" font-size="10.5" fill="#262626" textLength="15.1" lengthAdjust="spacingAndGlyphs">0.1</text>
<text x="414.5" y="428.64" transform="rotate(0.03 414.5 428.64)" font-size="10.5" fill="#262626" textLength="15.1" lengthAdjust="spacingAndGlyphs">0.0</text>
<rect x="441.9" y="310.97" width="57.2" height="30.4" rx="1.6" fill="#fff" fill-opacity="0.8" stroke="#d0d0d0" stroke-width="0.9"/>
<rect x="444.7" y="315.47" width="17.7" height="5.3" fill="#000" stroke="none"/>
<rect x="444.7" y="329.67" width="17.7" height="5.3" fill="#808080" stroke="none"/>
<text x="470.2" y="320.87" transform="rotate(0.03 470.2 320.87)" font-size="8.6" fill="#262626" stroke-width="0.1">O<tspan font-size="6.6" dx="0.7" dy="1.9">3</tspan></text>
<text x="470.2" y="334.87" transform="rotate(0.03 470.2 334.87)" font-size="8.6" fill="#262626" stroke-width="0.1">PM<tspan font-size="6.6" dx="0.1" dy="2.1" textLength="10.3" lengthAdjust="spacingAndGlyphs">2.5</tspan></text>
</g>
<g>
<path d="M643.71 424.89h6.48v-3.72h-6.48zM650.14 424.89h6.48v-67.91h-6.48zM656.57 424.89h6.48v-47.06h-6.48zM663 424.89h6.48v-56.14h-6.48zM669.43 424.89h6.48v-49.54h-6.48zM675.86 424.89h6.48v-30.34h-6.48zM682.29 424.89h6.48v-19.61h-6.48zM688.72 424.89h6.48v-8.05h-6.48zM695.15 424.89h6.48v-1.44h-6.48z" fill="#000" stroke="none"/>
<path d="M701.58 424.89h6.48v-0.62h-6.48zM708.01 424.89h6.48v-2.06h-6.48zM714.44 424.89h6.48v-10.32h-6.48zM720.87 424.89h6.48v-38.19h-6.48zM727.3 424.89h6.48v-92.27h-6.48zM733.73 424.89h6.48v-112.5h-6.48zM740.16 424.89h6.48v-18.37h-6.48zM746.59 424.89h6.48v-5.16h-6.48zM753.02 424.89h6.48v-3.51h-6.48z" fill="#808080" stroke="none"/>
<rect x="617.35" y="306.77" width="149.35" height="118.12" fill="none" stroke="#2b2b2b" stroke-width="1"/>
<path d="M634.65 424.89v4M661.69 424.89v4M688.72 424.89v4M715.76 424.89v4M742.8 424.89v4M617.35 312.05h-4M617.35 340.46h-4M617.35 368.67h-4M617.35 397.09h-4M617.35 424.89h-4" stroke="#2b2b2b" stroke-width="1" fill="none"/>
<text x="627.1" y="439.59" transform="rotate(0.03 627.1 439.59)" font-size="10.5" fill="#262626" textLength="15.1" lengthAdjust="spacingAndGlyphs">0.1</text>
<text x="654.14" y="439.59" transform="rotate(0.03 654.14 439.59)" font-size="10.5" fill="#262626" textLength="15.1" lengthAdjust="spacingAndGlyphs">0.3</text>
<text x="681.17" y="439.59" transform="rotate(0.03 681.17 439.59)" font-size="10.5" fill="#262626" textLength="15.1" lengthAdjust="spacingAndGlyphs">0.5</text>
<text x="708.21" y="439.59" transform="rotate(0.03 708.21 439.59)" font-size="10.5" fill="#262626" textLength="15.1" lengthAdjust="spacingAndGlyphs">0.7</text>
<text x="735.25" y="439.59" transform="rotate(0.03 735.25 439.59)" font-size="10.5" fill="#262626" textLength="15.1" lengthAdjust="spacingAndGlyphs">0.9</text>
<text x="594.05" y="315.8" transform="rotate(0.03 594.05 315.8)" font-size="10.5" fill="#262626" textLength="15.1" lengthAdjust="spacingAndGlyphs">0.4</text>
<text x="594.05" y="344.21" transform="rotate(0.03 594.05 344.21)" font-size="10.5" fill="#262626" textLength="15.1" lengthAdjust="spacingAndGlyphs">0.3</text>
<text x="594.05" y="372.42" transform="rotate(0.03 594.05 372.42)" font-size="10.5" fill="#262626" textLength="15.1" lengthAdjust="spacingAndGlyphs">0.2</text>
<text x="594.05" y="400.84" transform="rotate(0.03 594.05 400.84)" font-size="10.5" fill="#262626" textLength="15.1" lengthAdjust="spacingAndGlyphs">0.1</text>
<text x="594.05" y="428.64" transform="rotate(0.03 594.05 428.64)" font-size="10.5" fill="#262626" textLength="15.1" lengthAdjust="spacingAndGlyphs">0.0</text>
<rect x="621.45" y="310.97" width="57.2" height="30.4" rx="1.6" fill="#fff" fill-opacity="0.8" stroke="#d0d0d0" stroke-width="0.9"/>
<rect x="624.25" y="315.47" width="17.7" height="5.3" fill="#000" stroke="none"/>
<rect x="624.25" y="329.67" width="17.7" height="5.3" fill="#808080" stroke="none"/>
<text x="649.75" y="320.87" transform="rotate(0.03 649.75 320.87)" font-size="8.6" fill="#262626" stroke-width="0.1">O<tspan font-size="6.6" dx="0.7" dy="1.9">3</tspan></text>
<text x="649.75" y="334.87" transform="rotate(0.03 649.75 334.87)" font-size="8.6" fill="#262626" stroke-width="0.1">PM<tspan font-size="6.6" dx="0.1" dy="2.1" textLength="10.3" lengthAdjust="spacingAndGlyphs">2.5</tspan></text>
</g>
<g>
<path d="M105.5 566.28h6.48v-1.44h-6.48zM111.93 566.28h6.48v-40.73h-6.48zM118.36 566.28h6.48v-37.03h-6.48zM124.79 566.28h6.48v-45.66h-6.48zM131.22 566.28h6.48v-50.19h-6.48zM137.65 566.28h6.48v-46.69h-6.48zM144.08 566.28h6.48v-22.01h-6.48zM150.51 566.28h6.48v-4.53h-6.48z" fill="#000" stroke="none"/>
<path d="M163.38 566.28h6.48v-0.62h-6.48zM169.8 566.28h6.48v-1.44h-6.48zM176.23 566.28h6.48v-6.58h-6.48zM182.66 566.28h6.48v-27.77h-6.48zM189.09 566.28h6.48v-77.14h-6.48zM195.52 566.28h6.48v-112.1h-6.48zM201.95 566.28h6.48v-16.04h-6.48zM208.38 566.28h6.48v-3.91h-6.48zM214.81 566.28h6.48v-2.06h-6.48z" fill="#808080" stroke="none"/>
<rect x="79.57" y="448.57" width="148.43" height="117.71" fill="none" stroke="#2b2b2b" stroke-width="1"/>
<path d="M96.4 566.28v4M123.46 566.28v4M150.51 566.28v4M177.57 566.28v4M204.63 566.28v4M79.57 467.44h-4M79.57 492.15h-4M79.57 517.07h-4M79.57 541.57h-4M79.57 566.28h-4" stroke="#2b2b2b" stroke-width="1" fill="none"/>
<text x="88.85" y="580.98" transform="rotate(0.03 88.85 580.98)" font-size="10.5" fill="#262626" textLength="15.1" lengthAdjust="spacingAndGlyphs">0.1</text>
<text x="115.91" y="580.98" transform="rotate(0.03 115.91 580.98)" font-size="10.5" fill="#262626" textLength="15.1" lengthAdjust="spacingAndGlyphs">0.3</text>
<text x="142.96" y="580.98" transform="rotate(0.03 142.96 580.98)" font-size="10.5" fill="#262626" textLength="15.1" lengthAdjust="spacingAndGlyphs">0.5</text>
<text x="170.02" y="580.98" transform="rotate(0.03 170.02 580.98)" font-size="10.5" fill="#262626" textLength="15.1" lengthAdjust="spacingAndGlyphs">0.7</text>
<text x="197.08" y="580.98" transform="rotate(0.03 197.08 580.98)" font-size="10.5" fill="#262626" textLength="15.1" lengthAdjust="spacingAndGlyphs">0.9</text>
<text x="56.27" y="471.19" transform="rotate(0.03 56.27 471.19)" font-size="10.5" fill="#262626" textLength="15.1" lengthAdjust="spacingAndGlyphs">0.4</text>
<text x="56.27" y="495.9" transform="rotate(0.03 56.27 495.9)" font-size="10.5" fill="#262626" textLength="15.1" lengthAdjust="spacingAndGlyphs">0.3</text>
<text x="56.27" y="520.82" transform="rotate(0.03 56.27 520.82)" font-size="10.5" fill="#262626" textLength="15.1" lengthAdjust="spacingAndGlyphs">0.2</text>
<text x="56.27" y="545.32" transform="rotate(0.03 56.27 545.32)" font-size="10.5" fill="#262626" textLength="15.1" lengthAdjust="spacingAndGlyphs">0.1</text>
<text x="56.27" y="570.03" transform="rotate(0.03 56.27 570.03)" font-size="10.5" fill="#262626" textLength="15.1" lengthAdjust="spacingAndGlyphs">0.0</text>
<rect x="83.67" y="452.77" width="57.2" height="30.4" rx="1.6" fill="#fff" fill-opacity="0.8" stroke="#d0d0d0" stroke-width="0.9"/>
<rect x="86.47" y="457.27" width="17.7" height="5.3" fill="#000" stroke="none"/>
<rect x="86.47" y="471.47" width="17.7" height="5.3" fill="#808080" stroke="none"/>
<text x="111.97" y="462.67" transform="rotate(0.03 111.97 462.67)" font-size="8.6" fill="#262626" stroke-width="0.1">O<tspan font-size="6.6" dx="0.7" dy="1.9">3</tspan></text>
<text x="111.97" y="476.67" transform="rotate(0.03 111.97 476.67)" font-size="8.6" fill="#262626" stroke-width="0.1">PM<tspan font-size="6.6" dx="0.1" dy="2.1" textLength="10.3" lengthAdjust="spacingAndGlyphs">2.5</tspan></text>
</g>
<g>
<path d="M285.07 566.28h6.48v-2.88h-6.48zM291.5 566.28h6.48v-77.55h-6.48zM297.93 566.28h6.48v-61.91h-6.48zM304.36 566.28h6.48v-68.7h-6.48zM310.79 566.28h6.48v-58.42h-6.48zM317.22 566.28h6.48v-33.12h-6.48zM323.65 566.28h6.48v-11.72h-6.48zM330.08 566.28h6.48v-1.44h-6.48z" fill="#000" stroke="none"/>
<path d="M342.94 566.28h6.48v-0.62h-6.48zM349.37 566.28h6.48v-2.88h-6.48zM355.8 566.28h6.48v-12.34h-6.48zM362.23 566.28h6.48v-47.72h-6.48zM368.66 566.28h6.48v-112.1h-6.48zM375.09 566.28h6.48v-110.87h-6.48zM381.52 566.28h6.48v-19.95h-6.48zM387.95 566.28h6.48v-4.94h-6.48zM394.38 566.28h6.48v-2.88h-6.48z" fill="#808080" stroke="none"/>
<rect x="258.9" y="448.57" width="148.9" height="117.71" fill="none" stroke="#2b2b2b" stroke-width="1"/>
<path d="M275.85 566.28v4M302.96 566.28v4M330.08 566.28v4M357.19 566.28v4M384.3 566.28v4M258.9 471.56h-4M258.9 503.06h-4M258.9 534.57h-4M258.9 566.28h-4" stroke="#2b2b2b" stroke-width="1" fill="none"/>
<text x="268.3" y="580.98" transform="rotate(0.03 268.3 580.98)" font-size="10.5" fill="#262626" textLength="15.1" lengthAdjust="spacingAndGlyphs">0.1</text>
<text x="295.41" y="580.98" transform="rotate(0.03 295.41 580.98)" font-size="10.5" fill="#262626" textLength="15.1" lengthAdjust="spacingAndGlyphs">0.3</text>
<text x="322.53" y="580.98" transform="rotate(0.03 322.53 580.98)" font-size="10.5" fill="#262626" textLength="15.1" lengthAdjust="spacingAndGlyphs">0.5</text>
<text x="349.64" y="580.98" transform="rotate(0.03 349.64 580.98)" font-size="10.5" fill="#262626" textLength="15.1" lengthAdjust="spacingAndGlyphs">0.7</text>
<text x="376.75" y="580.98" transform="rotate(0.03 376.75 580.98)" font-size="10.5" fill="#262626" textLength="15.1" lengthAdjust="spacingAndGlyphs">0.9</text>
<text x="235.6" y="475.31" transform="rotate(0.03 235.6 475.31)" font-size="10.5" fill="#262626" textLength="15.1" lengthAdjust="spacingAndGlyphs">0.3</text>
<text x="235.6" y="506.81" transform="rotate(0.03 235.6 506.81)" font-size="10.5" fill="#262626" textLength="15.1" lengthAdjust="spacingAndGlyphs">0.2</text>
<text x="235.6" y="538.32" transform="rotate(0.03 235.6 538.32)" font-size="10.5" fill="#262626" textLength="15.1" lengthAdjust="spacingAndGlyphs">0.1</text>
<text x="235.6" y="570.03" transform="rotate(0.03 235.6 570.03)" font-size="10.5" fill="#262626" textLength="15.1" lengthAdjust="spacingAndGlyphs">0.0</text>
<rect x="263" y="452.77" width="57.2" height="30.4" rx="1.6" fill="#fff" fill-opacity="0.8" stroke="#d0d0d0" stroke-width="0.9"/>
<rect x="265.8" y="457.27" width="17.7" height="5.3" fill="#000" stroke="none"/>
<rect x="265.8" y="471.47" width="17.7" height="5.3" fill="#808080" stroke="none"/>
<text x="291.3" y="462.67" transform="rotate(0.03 291.3 462.67)" font-size="8.6" fill="#262626" stroke-width="0.1">O<tspan font-size="6.6" dx="0.7" dy="1.9">3</tspan></text>
<text x="291.3" y="476.67" transform="rotate(0.03 291.3 476.67)" font-size="8.6" fill="#262626" stroke-width="0.1">PM<tspan font-size="6.6" dx="0.1" dy="2.1" textLength="10.3" lengthAdjust="spacingAndGlyphs">2.5</tspan></text>
</g>
<g>
<path d="M464.21 566.28h6.48v-2.05h-6.48zM470.64 566.28h6.48v-112.1h-6.48zM477.07 566.28h6.48v-69.07h-6.48zM483.5 566.28h6.48v-59.43h-6.48zM489.93 566.28h6.48v-21.93h-6.48zM496.36 566.28h6.48v-3.89h-6.48zM502.79 566.28h6.48v-0.82h-6.48z" fill="#000" stroke="none"/>
<path d="M522.08 566.28h6.48v-0.61h-6.48zM528.5 566.28h6.48v-2.87h-6.48zM534.94 566.28h6.48v-13.73h-6.48zM541.37 566.28h6.48v-47.55h-6.48zM547.8 566.28h6.48v-102.27h-6.48zM554.23 566.28h6.48v-77.26h-6.48zM560.65 566.28h6.48v-15.99h-6.48zM567.09 566.28h6.48v-5.12h-6.48zM573.51 566.28h6.48v-3.48h-6.48z" fill="#808080" stroke="none"/>
<rect x="437.8" y="448.57" width="149.5" height="117.71" fill="none" stroke="#2b2b2b" stroke-width="1"/>
<path d="M454.83 566.28v4M482.02 566.28v4M509.22 566.28v4M536.41 566.28v4M563.6 566.28v4M437.8 458.79h-4M437.8 485.15h-4M437.8 512.33h-4M437.8 539.51h-4M437.8 566.28h-4" stroke="#2b2b2b" stroke-width="1" fill="none"/>
<text x="447.28" y="580.98" transform="rotate(0.03 447.28 580.98)" font-size="10.5" fill="#262626" textLength="15.1" lengthAdjust="spacingAndGlyphs">0.1</text>
<text x="474.47" y="580.98" transform="rotate(0.03 474.47 580.98)" font-size="10.5" fill="#262626" textLength="15.1" lengthAdjust="spacingAndGlyphs">0.3</text>
<text x="501.67" y="580.98" transform="rotate(0.03 501.67 580.98)" font-size="10.5" fill="#262626" textLength="15.1" lengthAdjust="spacingAndGlyphs">0.5</text>
<text x="528.86" y="580.98" transform="rotate(0.03 528.86 580.98)" font-size="10.5" fill="#262626" textLength="15.1" lengthAdjust="spacingAndGlyphs">0.7</text>
<text x="556.05" y="580.98" transform="rotate(0.03 556.05 580.98)" font-size="10.5" fill="#262626" textLength="15.1" lengthAdjust="spacingAndGlyphs">0.9</text>
<text x="414.5" y="462.54" transform="rotate(0.03 414.5 462.54)" font-size="10.5" fill="#262626" textLength="15.1" lengthAdjust="spacingAndGlyphs">0.4</text>
<text x="414.5" y="488.9" transform="rotate(0.03 414.5 488.9)" font-size="10.5" fill="#262626" textLength="15.1" lengthAdjust="spacingAndGlyphs">0.3</text>
<text x="414.5" y="516.08" transform="rotate(0.03 414.5 516.08)" font-size="10.5" fill="#262626" textLength="15.1" lengthAdjust="spacingAndGlyphs">0.2</text>
<text x="414.5" y="543.26" transform="rotate(0.03 414.5 543.26)" font-size="10.5" fill="#262626" textLength="15.1" lengthAdjust="spacingAndGlyphs">0.1</text>
<text x="414.5" y="570.03" transform="rotate(0.03 414.5 570.03)" font-size="10.5" fill="#262626" textLength="15.1" lengthAdjust="spacingAndGlyphs">0.0</text>
<rect x="483.95" y="452.77" width="57.2" height="30.4" rx="1.6" fill="#fff" fill-opacity="0.8" stroke="#d0d0d0" stroke-width="0.9"/>
<rect x="486.75" y="457.27" width="17.7" height="5.3" fill="#000" stroke="none"/>
<rect x="486.75" y="471.47" width="17.7" height="5.3" fill="#808080" stroke="none"/>
<text x="512.25" y="462.67" transform="rotate(0.03 512.25 462.67)" font-size="8.6" fill="#262626" stroke-width="0.1">O<tspan font-size="6.6" dx="0.7" dy="1.9">3</tspan></text>
<text x="512.25" y="476.67" transform="rotate(0.03 512.25 476.67)" font-size="8.6" fill="#262626" stroke-width="0.1">PM<tspan font-size="6.6" dx="0.1" dy="2.1" textLength="10.3" lengthAdjust="spacingAndGlyphs">2.5</tspan></text>
</g>
<g>
<path d="M643.71 566.28h6.48v-4.51h-6.48zM650.14 566.28h6.48v-112.1h-6.48zM656.57 566.28h6.48v-62.3h-6.48zM663 566.28h6.48v-49.19h-6.48zM669.43 566.28h6.48v-26.64h-6.48zM675.86 566.28h6.48v-15.58h-6.48zM682.29 566.28h6.48v-3.69h-6.48zM688.72 566.28h6.48v-0.82h-6.48z" fill="#000" stroke="none"/>
<path d="M701.58 566.28h6.48v-0.61h-6.48zM708.01 566.28h6.48v-2.05h-6.48zM714.44 566.28h6.48v-13.73h-6.48zM720.87 566.28h6.48v-51.24h-6.48zM727.3 566.28h6.48v-97.76h-6.48zM733.73 566.28h6.48v-79.31h-6.48zM740.16 566.28h6.48v-17.63h-6.48zM746.59 566.28h6.48v-5.94h-6.48zM753.02 566.28h6.48v-4.51h-6.48z" fill="#808080" stroke="none"/>
<rect x="617.35" y="448.57" width="149.35" height="117.71" fill="none" stroke="#2b2b2b" stroke-width="1"/>
<path d="M634.65 566.28v4M661.69 566.28v4M688.72 566.28v4M715.76 566.28v4M742.8 566.28v4M617.35 456.32h-4M617.35 483.91h-4M617.35 511.3h-4M617.35 539.1h-4M617.35 566.28h-4" stroke="#2b2b2b" stroke-width="1" fill="none"/>
<text x="627.1" y="580.98" transform="rotate(0.03 627.1 580.98)" font-size="10.5" fill="#262626" textLength="15.1" lengthAdjust="spacingAndGlyphs">0.1</text>
<text x="654.14" y="580.98" transform="rotate(0.03 654.14 580.98)" font-size="10.5" fill="#262626" textLength="15.1" lengthAdjust="spacingAndGlyphs">0.3</text>
<text x="681.17" y="580.98" transform="rotate(0.03 681.17 580.98)" font-size="10.5" fill="#262626" textLength="15.1" lengthAdjust="spacingAndGlyphs">0.5</text>
<text x="708.21" y="580.98" transform="rotate(0.03 708.21 580.98)" font-size="10.5" fill="#262626" textLength="15.1" lengthAdjust="spacingAndGlyphs">0.7</text>
<text x="735.25" y="580.98" transform="rotate(0.03 735.25 580.98)" font-size="10.5" fill="#262626" textLength="15.1" lengthAdjust="spacingAndGlyphs">0.9</text>
<text x="594.05" y="460.07" transform="rotate(0.03 594.05 460.07)" font-size="10.5" fill="#262626" textLength="15.1" lengthAdjust="spacingAndGlyphs">0.4</text>
<text x="594.05" y="487.66" transform="rotate(0.03 594.05 487.66)" font-size="10.5" fill="#262626" textLength="15.1" lengthAdjust="spacingAndGlyphs">0.3</text>
<text x="594.05" y="515.05" transform="rotate(0.03 594.05 515.05)" font-size="10.5" fill="#262626" textLength="15.1" lengthAdjust="spacingAndGlyphs">0.2</text>
<text x="594.05" y="542.85" transform="rotate(0.03 594.05 542.85)" font-size="10.5" fill="#262626" textLength="15.1" lengthAdjust="spacingAndGlyphs">0.1</text>
<text x="594.05" y="570.03" transform="rotate(0.03 594.05 570.03)" font-size="10.5" fill="#262626" textLength="15.1" lengthAdjust="spacingAndGlyphs">0.0</text>
<rect x="663.43" y="452.77" width="57.2" height="30.4" rx="1.6" fill="#fff" fill-opacity="0.8" stroke="#d0d0d0" stroke-width="0.9"/>
<rect x="666.23" y="457.27" width="17.7" height="5.3" fill="#000" stroke="none"/>
<rect x="666.23" y="471.47" width="17.7" height="5.3" fill="#808080" stroke="none"/>
<text x="691.73" y="462.67" transform="rotate(0.03 691.73 462.67)" font-size="8.6" fill="#262626" stroke-width="0.1">O<tspan font-size="6.6" dx="0.7" dy="1.9">3</tspan></text>
<text x="691.73" y="476.67" transform="rotate(0.03 691.73 476.67)" font-size="8.6" fill="#262626" stroke-width="0.1">PM<tspan font-size="6.6" dx="0.1" dy="2.1" textLength="10.3" lengthAdjust="spacingAndGlyphs">2.5</tspan></text>
</g>
<g>
<path d="M105.5 707.36h6.48v-1.23h-6.48zM111.93 707.36h6.48v-74.95h-6.48zM118.36 707.36h6.48v-74.95h-6.48zM124.79 707.36h6.48v-80.08h-6.48zM131.22 707.36h6.48v-60.98h-6.48zM137.65 707.36h6.48v-18.07h-6.48zM144.08 707.36h6.48v-1.23h-6.48z" fill="#000" stroke="none"/>
<path d="M163.38 707.36h6.48v-0.62h-6.48zM169.8 707.36h6.48v-2.05h-6.48zM176.23 707.36h6.48v-10.88h-6.48zM182.66 707.36h6.48v-46.2h-6.48zM189.09 707.36h6.48v-111.9h-6.48zM195.52 707.36h6.48v-109.85h-6.48zM201.95 707.36h6.48v-21.76h-6.48zM208.38 707.36h6.48v-5.75h-6.48zM214.81 707.36h6.48v-3.49h-6.48z" fill="#808080" stroke="none"/>
<rect x="79.57" y="589.86" width="148.43" height="117.5" fill="none" stroke="#2b2b2b" stroke-width="1"/>
<path d="M96.4 707.36v4M123.46 707.36v4M150.51 707.36v4M177.57 707.36v4M204.63 707.36v4M79.57 613.05h-4M79.57 644.55h-4M79.57 676.06h-4M79.57 707.36h-4" stroke="#2b2b2b" stroke-width="1" fill="none"/>
<text x="88.85" y="722.06" transform="rotate(0.03 88.85 722.06)" font-size="10.5" fill="#262626" textLength="15.1" lengthAdjust="spacingAndGlyphs">0.1</text>
<text x="115.91" y="722.06" transform="rotate(0.03 115.91 722.06)" font-size="10.5" fill="#262626" textLength="15.1" lengthAdjust="spacingAndGlyphs">0.3</text>
<text x="142.96" y="722.06" transform="rotate(0.03 142.96 722.06)" font-size="10.5" fill="#262626" textLength="15.1" lengthAdjust="spacingAndGlyphs">0.5</text>
<text x="170.02" y="722.06" transform="rotate(0.03 170.02 722.06)" font-size="10.5" fill="#262626" textLength="15.1" lengthAdjust="spacingAndGlyphs">0.7</text>
<text x="197.08" y="722.06" transform="rotate(0.03 197.08 722.06)" font-size="10.5" fill="#262626" textLength="15.1" lengthAdjust="spacingAndGlyphs">0.9</text>
<text x="56.27" y="616.8" transform="rotate(0.03 56.27 616.8)" font-size="10.5" fill="#262626" textLength="15.1" lengthAdjust="spacingAndGlyphs">0.3</text>
<text x="56.27" y="648.3" transform="rotate(0.03 56.27 648.3)" font-size="10.5" fill="#262626" textLength="15.1" lengthAdjust="spacingAndGlyphs">0.2</text>
<text x="56.27" y="679.81" transform="rotate(0.03 56.27 679.81)" font-size="10.5" fill="#262626" textLength="15.1" lengthAdjust="spacingAndGlyphs">0.1</text>
<text x="56.27" y="711.11" transform="rotate(0.03 56.27 711.11)" font-size="10.5" fill="#262626" textLength="15.1" lengthAdjust="spacingAndGlyphs">0.0</text>
<rect x="83.67" y="594.06" width="57.2" height="30.4" rx="1.6" fill="#fff" fill-opacity="0.8" stroke="#d0d0d0" stroke-width="0.9"/>
<rect x="86.47" y="598.56" width="17.7" height="5.3" fill="#000" stroke="none"/>
<rect x="86.47" y="612.76" width="17.7" height="5.3" fill="#808080" stroke="none"/>
<text x="111.97" y="603.96" transform="rotate(0.03 111.97 603.96)" font-size="8.6" fill="#262626" stroke-width="0.1">O<tspan font-size="6.6" dx="0.7" dy="1.9">3</tspan></text>
<text x="111.97" y="617.96" transform="rotate(0.03 111.97 617.96)" font-size="8.6" fill="#262626" stroke-width="0.1">PM<tspan font-size="6.6" dx="0.1" dy="2.1" textLength="10.3" lengthAdjust="spacingAndGlyphs">2.5</tspan></text>
</g>
<g>
<path d="M285.07 707.36h6.48v-2.26h-6.48zM291.5 707.36h6.48v-102.87h-6.48zM297.93 707.36h6.48v-88.91h-6.48zM304.36 707.36h6.48v-68.99h-6.48zM310.79 707.36h6.48v-30.18h-6.48zM317.22 707.36h6.48v-6.57h-6.48zM323.65 707.36h6.48v-0.82h-6.48z" fill="#000" stroke="none"/>
<path d="M342.94 707.36h6.48v-0.62h-6.48zM349.37 707.36h6.48v-2.87h-6.48zM355.8 707.36h6.48v-14.58h-6.48zM362.23 707.36h6.48v-56.47h-6.48zM368.66 707.36h6.48v-111.9h-6.48zM375.09 707.36h6.48v-82.34h-6.48zM381.52 707.36h6.48v-21.15h-6.48zM387.95 707.36h6.48v-6.57h-6.48zM394.38 707.36h6.48v-3.49h-6.48z" fill="#808080" stroke="none"/>
<rect x="258.9" y="589.86" width="148.9" height="117.5" fill="none" stroke="#2b2b2b" stroke-width="1"/>
<path d="M275.85 707.36v4M302.96 707.36v4M330.08 707.36v4M357.19 707.36v4M384.3 707.36v4M258.9 616.76h-4M258.9 647.03h-4M258.9 677.09h-4M258.9 707.36h-4" stroke="#2b2b2b" stroke-width="1" fill="none"/>
<text x="268.3" y="722.06" transform="rotate(0.03 268.3 722.06)" font-size="10.5" fill="#262626" textLength="15.1" lengthAdjust="spacingAndGlyphs">0.1</text>
<text x="295.41" y="722.06" transform="rotate(0.03 295.41 722.06)" font-size="10.5" fill="#262626" textLength="15.1" lengthAdjust="spacingAndGlyphs">0.3</text>
<text x="322.53" y="722.06" transform="rotate(0.03 322.53 722.06)" font-size="10.5" fill="#262626" textLength="15.1" lengthAdjust="spacingAndGlyphs">0.5</text>
<text x="349.64" y="722.06" transform="rotate(0.03 349.64 722.06)" font-size="10.5" fill="#262626" textLength="15.1" lengthAdjust="spacingAndGlyphs">0.7</text>
<text x="376.75" y="722.06" transform="rotate(0.03 376.75 722.06)" font-size="10.5" fill="#262626" textLength="15.1" lengthAdjust="spacingAndGlyphs">0.9</text>
<text x="235.6" y="620.51" transform="rotate(0.03 235.6 620.51)" font-size="10.5" fill="#262626" textLength="15.1" lengthAdjust="spacingAndGlyphs">0.3</text>
<text x="235.6" y="650.78" transform="rotate(0.03 235.6 650.78)" font-size="10.5" fill="#262626" textLength="15.1" lengthAdjust="spacingAndGlyphs">0.2</text>
<text x="235.6" y="680.84" transform="rotate(0.03 235.6 680.84)" font-size="10.5" fill="#262626" textLength="15.1" lengthAdjust="spacingAndGlyphs">0.1</text>
<text x="235.6" y="711.11" transform="rotate(0.03 235.6 711.11)" font-size="10.5" fill="#262626" textLength="15.1" lengthAdjust="spacingAndGlyphs">0.0</text>
<rect x="305.4" y="594.06" width="55.9" height="30.4" rx="1.6" fill="#fff" fill-opacity="0.8" stroke="#d0d0d0" stroke-width="0.9"/>
<rect x="308.2" y="598.56" width="17.0" height="5.3" fill="#000" stroke="none"/>
<rect x="308.2" y="612.76" width="17.0" height="5.3" fill="#808080" stroke="none"/>
<text x="330.8" y="603.96" transform="rotate(0.03 330.8 603.96)" font-size="8.6" fill="#262626" stroke-width="0.1">O<tspan font-size="6.6" dx="0.7" dy="1.9">3</tspan></text>
<text x="330.8" y="617.96" transform="rotate(0.03 330.8 617.96)" font-size="8.6" fill="#262626" stroke-width="0.1">PM<tspan font-size="6.6" dx="0.1" dy="2.1" textLength="10.3" lengthAdjust="spacingAndGlyphs">2.5</tspan></text>
</g>
<g>
<path d="M464.21 707.36h6.48v-1.23h-6.48zM470.64 707.36h6.48v-111.9h-6.48zM477.07 707.36h6.48v-69.81h-6.48zM483.5 707.36h6.48v-23.41h-6.48zM489.93 707.36h6.48v-2.05h-6.48z" fill="#000" stroke="none"/>
<path d="M522.08 707.36h6.48v-0.62h-6.48zM528.5 707.36h6.48v-2.05h-6.48zM534.94 707.36h6.48v-9.86h-6.48zM541.37 707.36h6.48v-37.58h-6.48zM547.8 707.36h6.48v-77.2h-6.48zM554.23 707.36h6.48v-56.67h-6.48zM560.65 707.36h6.48v-15.19h-6.48zM567.09 707.36h6.48v-5.13h-6.48zM573.51 707.36h6.48v-3.49h-6.48z" fill="#808080" stroke="none"/>
<rect x="437.8" y="589.86" width="149.5" height="117.5" fill="none" stroke="#2b2b2b" stroke-width="1"/>
<path d="M454.83 707.36v4M482.02 707.36v4M509.22 707.36v4M536.41 707.36v4M563.6 707.36v4M437.8 623.76h-4M437.8 665.56h-4M437.8 707.36h-4" stroke="#2b2b2b" stroke-width="1" fill="none"/>
<text x="447.28" y="722.06" transform="rotate(0.03 447.28 722.06)" font-size="10.5" fill="#262626" textLength="15.1" lengthAdjust="spacingAndGlyphs">0.1</text>
<text x="474.47" y="722.06" transform="rotate(0.03 474.47 722.06)" font-size="10.5" fill="#262626" textLength="15.1" lengthAdjust="spacingAndGlyphs">0.3</text>
<text x="501.67" y="722.06" transform="rotate(0.03 501.67 722.06)" font-size="10.5" fill="#262626" textLength="15.1" lengthAdjust="spacingAndGlyphs">0.5</text>
<text x="528.86" y="722.06" transform="rotate(0.03 528.86 722.06)" font-size="10.5" fill="#262626" textLength="15.1" lengthAdjust="spacingAndGlyphs">0.7</text>
<text x="556.05" y="722.06" transform="rotate(0.03 556.05 722.06)" font-size="10.5" fill="#262626" textLength="15.1" lengthAdjust="spacingAndGlyphs">0.9</text>
<text x="414.5" y="627.51" transform="rotate(0.03 414.5 627.51)" font-size="10.5" fill="#262626" textLength="15.1" lengthAdjust="spacingAndGlyphs">0.4</text>
<text x="414.5" y="669.31" transform="rotate(0.03 414.5 669.31)" font-size="10.5" fill="#262626" textLength="15.1" lengthAdjust="spacingAndGlyphs">0.2</text>
<text x="414.5" y="711.11" transform="rotate(0.03 414.5 711.11)" font-size="10.5" fill="#262626" textLength="15.1" lengthAdjust="spacingAndGlyphs">0.0</text>
<rect x="526.1" y="594.06" width="57.2" height="30.4" rx="1.6" fill="#fff" fill-opacity="0.8" stroke="#d0d0d0" stroke-width="0.9"/>
<rect x="528.9" y="598.56" width="17.7" height="5.3" fill="#000" stroke="none"/>
<rect x="528.9" y="612.76" width="17.7" height="5.3" fill="#808080" stroke="none"/>
<text x="554.4" y="603.96" transform="rotate(0.03 554.4 603.96)" font-size="8.6" fill="#262626" stroke-width="0.1">O<tspan font-size="6.6" dx="0.7" dy="1.9">3</tspan></text>
<text x="554.4" y="617.96" transform="rotate(0.03 554.4 617.96)" font-size="8.6" fill="#262626" stroke-width="0.1">PM<tspan font-size="6.6" dx="0.1" dy="2.1" textLength="10.3" lengthAdjust="spacingAndGlyphs">2.5</tspan></text>
</g>
<g>
<path d="M643.71 707.36h6.48v-2.05h-6.48zM650.14 707.36h6.48v-111.9h-6.48zM656.57 707.36h6.48v-63.24h-6.48zM663 707.36h6.48v-28.75h-6.48zM669.43 707.36h6.48v-10.88h-6.48zM675.86 707.36h6.48v-1.03h-6.48z" fill="#000" stroke="none"/>
<path d="M708.01 707.36h6.48v-2.05h-6.48zM714.44 707.36h6.48v-10.88h-6.48zM720.87 707.36h6.48v-41.68h-6.48zM727.3 707.36h6.48v-78.64h-6.48zM733.73 707.36h6.48v-57.08h-6.48zM740.16 707.36h6.48v-16.84h-6.48zM746.59 707.36h6.48v-5.75h-6.48zM753.02 707.36h6.48v-4.11h-6.48z" fill="#808080" stroke="none"/>
<rect x="617.35" y="589.86" width="149.35" height="117.5" fill="none" stroke="#2b2b2b" stroke-width="1"/>
<path d="M634.65 707.36v4M661.69 707.36v4M688.72 707.36v4M715.76 707.36v4M742.8 707.36v4M617.35 619.64h-4M617.35 663.5h-4M617.35 707.36h-4" stroke="#2b2b2b" stroke-width="1" fill="none"/>
<text x="627.1" y="722.06" transform="rotate(0.03 627.1 722.06)" font-size="10.5" fill="#262626" textLength="15.1" lengthAdjust="spacingAndGlyphs">0.1</text>
<text x="654.14" y="722.06" transform="rotate(0.03 654.14 722.06)" font-size="10.5" fill="#262626" textLength="15.1" lengthAdjust="spacingAndGlyphs">0.3</text>
<text x="681.17" y="722.06" transform="rotate(0.03 681.17 722.06)" font-size="10.5" fill="#262626" textLength="15.1" lengthAdjust="spacingAndGlyphs">0.5</text>
<text x="708.21" y="722.06" transform="rotate(0.03 708.21 722.06)" font-size="10.5" fill="#262626" textLength="15.1" lengthAdjust="spacingAndGlyphs">0.7</text>
<text x="735.25" y="722.06" transform="rotate(0.03 735.25 722.06)" font-size="10.5" fill="#262626" textLength="15.1" lengthAdjust="spacingAndGlyphs">0.9</text>
<text x="594.05" y="623.39" transform="rotate(0.03 594.05 623.39)" font-size="10.5" fill="#262626" textLength="15.1" lengthAdjust="spacingAndGlyphs">0.4</text>
<text x="594.05" y="667.25" transform="rotate(0.03 594.05 667.25)" font-size="10.5" fill="#262626" textLength="15.1" lengthAdjust="spacingAndGlyphs">0.2</text>
<text x="594.05" y="711.11" transform="rotate(0.03 594.05 711.11)" font-size="10.5" fill="#262626" textLength="15.1" lengthAdjust="spacingAndGlyphs">0.0</text>
<rect x="705.5" y="594.06" width="57.2" height="30.4" rx="1.6" fill="#fff" fill-opacity="0.8" stroke="#d0d0d0" stroke-width="0.9"/>
<rect x="708.3" y="598.56" width="17.7" height="5.3" fill="#000" stroke="none"/>
<rect x="708.3" y="612.76" width="17.7" height="5.3" fill="#808080" stroke="none"/>
<text x="733.8" y="603.96" transform="rotate(0.03 733.8 603.96)" font-size="8.6" fill="#262626" stroke-width="0.1">O<tspan font-size="6.6" dx="0.7" dy="1.9">3</tspan></text>
<text x="733.8" y="617.96" transform="rotate(0.03 733.8 617.96)" font-size="8.6" fill="#262626" stroke-width="0.1">PM<tspan font-size="6.6" dx="0.1" dy="2.1" textLength="10.3" lengthAdjust="spacingAndGlyphs">2.5</tspan></text>
</g>
<text x="134.4" y="17.3" transform="rotate(0.03 134.4 17.3)" font-size="12.6" fill="#262626" textLength="38.7" lengthAdjust="spacingAndGlyphs">Winter</text>
<text x="313.3" y="17.3" transform="rotate(0.03 313.3 17.3)" font-size="12.6" fill="#262626" textLength="38.1" lengthAdjust="spacingAndGlyphs">Spring</text>
<text x="486.4" y="17.3" transform="rotate(0.03 486.4 17.3)" font-size="12.6" fill="#262626" textLength="51.2" lengthAdjust="spacingAndGlyphs">Summer</text>
<text x="682.5" y="17.3" transform="rotate(0.03 682.5 17.3)" font-size="12.6" fill="#262626" textLength="18.9" lengthAdjust="spacingAndGlyphs">Fall</text>
<text transform="translate(48.8 128.8) rotate(-89.97)" font-size="10.6" fill="#262626" textLength="89.8" lengthAdjust="spacingAndGlyphs">&lt; 1974 no rehab.</text>
<text transform="translate(48.8 260.6) rotate(-89.97)" font-size="10.6" fill="#262626" textLength="73.4" lengthAdjust="spacingAndGlyphs">&lt; 1974 rehab.</text>
<text transform="translate(48.8 396.3) rotate(-89.97)" font-size="10.6" fill="#262626" textLength="55.5" lengthAdjust="spacingAndGlyphs">1974–2005</text>
<text transform="translate(48.8 537.5) rotate(-89.97)" font-size="10.6" fill="#262626" textLength="55.8" lengthAdjust="spacingAndGlyphs">2006–2012</text>
<text transform="translate(48.8 665.4) rotate(-89.97)" font-size="10.6" fill="#262626" textLength="34.4" lengthAdjust="spacingAndGlyphs">&gt;2012</text>
</g>
<text transform="translate(25 492.4) rotate(-89.97)" font-size="23.2" fill="#000" textLength="246.8" lengthAdjust="spacingAndGlyphs">Normalized occurrence</text>
<text x="365.2" y="755.3" font-size="23.2" fill="#000">I</text>
<text x="374" y="755.3" font-size="23.2" fill="#000">/</text>
<text x="385.2" y="755.3" font-size="23.2" fill="#000">O</text>
<text x="410.4" y="755.3" font-size="23.2" fill="#000" textLength="58.8" lengthAdjust="spacingAndGlyphs">ratios</text>
</svg>
</body></html>
